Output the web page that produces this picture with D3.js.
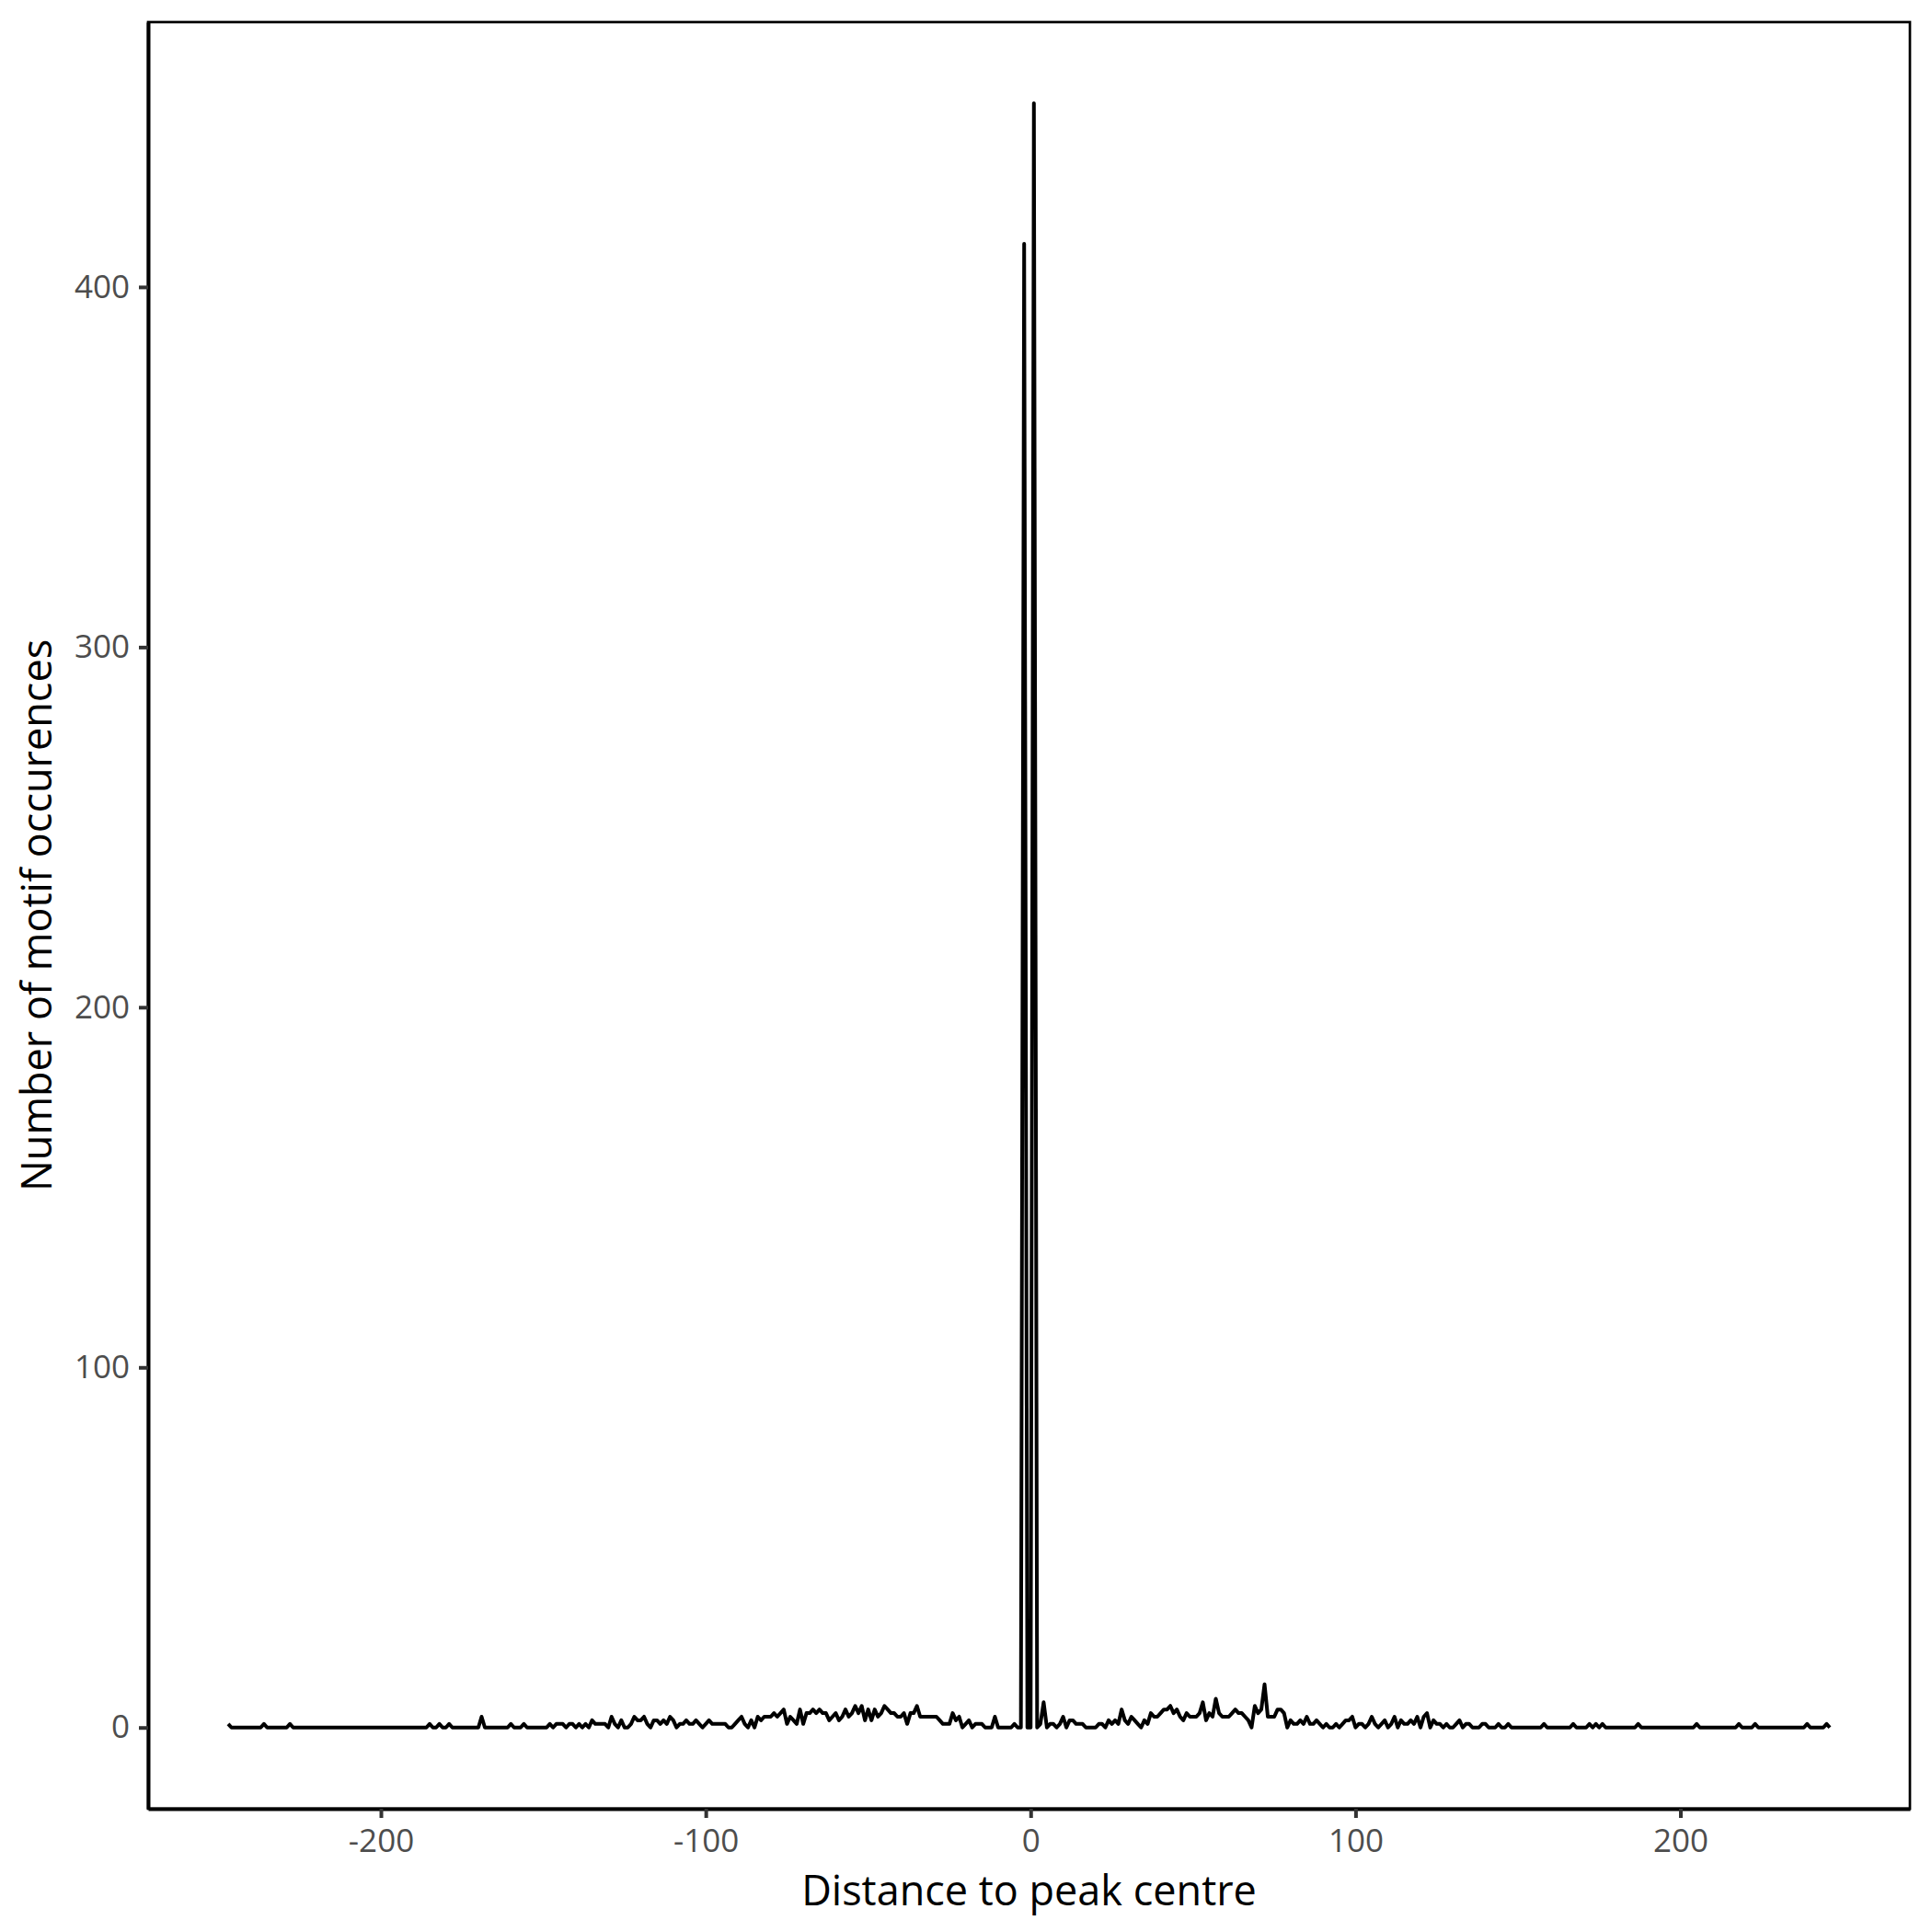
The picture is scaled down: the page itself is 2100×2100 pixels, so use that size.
<!DOCTYPE html>
<html>
<head>
<meta charset="utf-8">
<script src="https://cdn.jsdelivr.net/npm/d3@7"></script>
<style>
  body { margin: 0; background: #fff; }
</style>
</head>
<body>
<svg id="chart" width="2100" height="2100"></svg>
<script>
// distance of the first bin, one count per bp
let distStart = -247;

// counts from -247 to -3
let leftFlank = [
  1,0,0,0,0,0,0,0,0,0,
  0,1,0,0,0,0,0,0,0,1,
  0,0,0,0,0,0,0,0,0,0,
  0,0,0,0,0,0,0,0,0,0,
  0,0,0,0,0,0,0,0,0,0,
  0,0,0,0,0,0,0,0,0,0,
  0,0,1,0,0,1,0,0,1,0,
  0,0,0,0,0,0,0,0,3,0,
  0,0,0,0,0,0,0,1,0,0,
  0,1,0,0,0,0,0,0,0,1,
  0,1,1,1,0,1,1,0,1,0,
  1,0,2,1,1,1,1,0,3,1,
  0,2,0,0,1,3,2,2,3,1,
  0,2,2,1,2,1,3,2,0,1,
  1,2,1,1,2,1,0,1,2,1,
  1,1,1,1,0,0,1,2,3,1,
  0,2,0,3,2,3,3,3,4,3,
  4,5,1,3,2,1,5,1,4,4,
  5,4,5,4,4,2,3,4,2,3,
  5,3,4,6,4,6,2,5,2,5,
  3,4,6,5,4,4,3,3,4,1,
  4,4,6,3,3,3,3,3,3,2,
  1,1,1,4,2,3,0,1,2,0,
  1,1,1,0,0,0,3,0,0,0,
  0,0,1,0,0
];

// counts from -2 to 2
let centre = [412, 0, 0, 451, 0];

// counts from 3 to 246
let rightFlank = [
  1,7,0,1,1,0,1,3,0,2,
  2,1,1,1,0,0,0,0,1,1,
  0,2,1,2,1,5,2,1,3,2,
  1,0,2,1,4,3,3,4,5,5,
  6,4,5,3,2,4,3,3,3,4,
  7,2,4,3,8,4,3,3,3,4,
  5,4,4,3,2,0,6,4,5,12,
  3,3,3,5,5,4,0,2,1,1,
  2,1,3,1,1,2,1,0,1,0,
  0,1,0,1,2,2,3,0,1,1,
  0,1,3,1,0,1,2,0,1,3,
  0,2,1,1,2,1,3,0,3,4,
  0,2,1,1,0,1,0,0,1,2,
  0,1,1,0,0,0,1,1,0,0,
  0,1,0,0,1,0,0,0,0,0,
  0,0,0,0,0,1,0,0,0,0,
  0,0,0,0,1,0,0,0,0,1,
  0,1,0,1,0,0,0,0,0,0,
  0,0,0,0,1,0,0,0,0,0,
  0,0,0,0,0,0,0,0,0,0,
  0,0,1,0,0,0,0,0,0,0,
  0,0,0,0,0,1,0,0,0,0,
  1,0,0,0,0,0,0,0,0,0,
  0,0,0,0,0,0,1,0,0,0,
  0,0,1,0
];

let xTicks = [-200, -100, 0, 100, 200];
let yTicks = [0, 100, 200, 300, 400];

let counts = leftFlank.concat(centre, rightFlank);
let data = counts.map((c, i) => ({dist: distStart + i, n: c}));

let margin = {top: 24, right: 24, bottom: 134, left: 161};
let width = 2100, height = 2100;

function expand(ext, f = 0.05){
  let pad = (ext[1] - ext[0]) * f;
  return [ext[0] - pad, ext[1] + pad];
}

let x = d3.scaleLinear()
  .domain(expand(d3.extent(data, d => d.dist)))
  .range([margin.left, width - margin.right]);
let y = d3.scaleLinear()
  .domain(expand([0, d3.max(data, d => d.n)]))
  .range([height - margin.bottom, margin.top]);

let svg = d3.select("#chart");
let font = "'Open Sans', 'Noto Sans', sans-serif";

// panel border
svg.append("rect")
  .attr("x", margin.left)
  .attr("y", margin.top)
  .attr("width", width - margin.left - margin.right)
  .attr("height", height - margin.top - margin.bottom)
  .attr("fill", "none")
  .attr("stroke", "#000")
  .attr("stroke-width", 2.7);

let line = d3.line()
  .x(d => x(d.dist))
  .y(d => y(d.n));

svg.append("path")
  .datum(data)
  .attr("fill", "none")
  .attr("stroke", "#000")
  .attr("stroke-width", 4)
  .attr("stroke-linejoin", "round")
  .attr("d", line);

// axes, plain hyphen for negatives like ggplot
let fmt = d => String(d);
let xAxis = svg.append("g")
  .attr("transform", `translate(0,${height - margin.bottom})`)
  .call(d3.axisBottom(x).tickValues(xTicks).tickFormat(fmt).tickSize(10).tickPadding(7).tickSizeOuter(0));
let yAxis = svg.append("g")
  .attr("transform", `translate(${margin.left},0)`)
  .call(d3.axisLeft(y).tickValues(yTicks).tickFormat(fmt).tickSize(10).tickPadding(10).tickSizeOuter(0));

[xAxis, yAxis].forEach(g => {
  g.select(".domain").attr("stroke", "#000").attr("stroke-width", 4);
  g.selectAll(".tick line").attr("stroke", "#333").attr("stroke-width", 4);
  g.selectAll(".tick text")
    .attr("fill", "#4d4d4d")
    .attr("font-family", font)
    .attr("font-size", 35);
});
xAxis.selectAll(".tick text").attr("dy", "0.85em");

svg.append("text")
  .attr("x", (margin.left + width - margin.right) / 2)
  .attr("y", 2071)
  .attr("text-anchor", "middle")
  .attr("font-family", font)
  .attr("font-size", 45)
  .attr("fill", "#000")
  .text("Distance to peak centre");

svg.append("text")
  .attr("transform", `translate(56,${(margin.top + height - margin.bottom) / 2}) rotate(-90)`)
  .attr("text-anchor", "middle")
  .attr("font-family", font)
  .attr("font-size", 45)
  .attr("fill", "#000")
  .text("Number of motif occurences");
</script>
</body>
</html>
